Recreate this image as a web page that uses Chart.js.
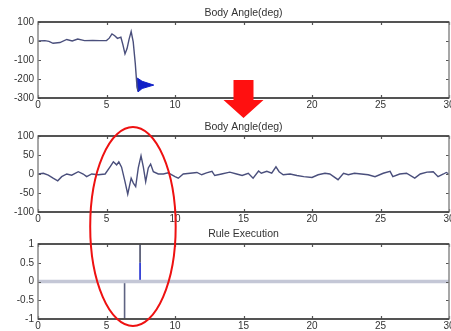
<!DOCTYPE html>
<html>
<head>
<meta charset="utf-8">
<script src="https://cdn.jsdelivr.net/npm/chart.js@4"></script>
<style>
  html, body { margin: 0; padding: 0; background: #fff; overflow: hidden; }
  #wrap { position: relative; width: 451px; height: 331px; overflow: hidden; }
  canvas { position: absolute; left: 0; }
</style>
</head>
<body>
<div id="wrap">
  <canvas id="c1" width="470" height="110" style="top:0px"></canvas>
  <canvas id="c2" width="470" height="114" style="top:110px"></canvas>
  <canvas id="c3" width="470" height="107" style="top:224px"></canvas>
  <canvas id="overlay" width="451" height="331" style="top:0px"></canvas>
</div>
<script>
// 数据: 上图 (原始身体角度)
const xTicks = [0, 5, 10, 15, 20, 25, 30];
const angle1T = [0, 0.5, 0.8, 1.1, 1.6, 2.1, 2.5, 2.9, 3.4, 4.0, 4.5, 5.0, 5.2, 5.4, 5.6, 5.8, 6.05, 6.2, 6.35, 6.5, 6.65, 6.8, 6.95, 7.1, 7.2, 7.28];
const angle1V = [0, 2, -2, -12, -8, 8, 0, 10, 2, 3, 2, 2, 15, 37, 28, 14, 20, -20, -68, -40, 10, 50, -5, -118, -215, -262];
// 倒下后的蓝色振荡区域
const fallT = [7.25, 7.6, 8.45, 7.6, 7.3, 7.22, 7.25];
const fallV = [-195, -212, -232, -250, -268, -240, -195];

// 中图 (修正后的身体角度)
const angle2T = [0, 0.39, 0.75, 1.1, 1.44, 1.73, 2.1, 2.46, 2.94, 3.3, 3.55, 3.92, 4.4, 4.9, 5.26, 5.5, 5.74, 5.9, 6.1, 6.35, 6.55, 6.8, 6.96, 7.13, 7.32, 7.52, 7.69, 7.86, 8.05, 8.22, 8.42, 8.78, 9.15, 9.5,
  10.0, 10.24, 10.6, 11.1, 11.6, 11.95, 12.3, 12.7, 12.9, 13.4, 14.0, 14.5, 14.9, 15.35, 15.7, 16.1, 16.3, 16.7, 17.06, 17.37, 17.6, 17.9, 18.4, 18.9, 19.4,
  20.0, 20.45, 20.95, 21.3, 21.9, 22.3, 22.65, 23.1, 23.6, 24.1, 24.6, 25.2, 25.7, 25.9, 26.4, 26.9, 27.5, 27.9, 28.4, 28.85, 29.2, 29.6, 29.8, 30];
const angle2V = [0, 2, -3, -11, -18, -7, 0, -3, 6, 0, -7, 0, -2, 0, 19, 32, 24, 32, 18, -20, -53, -11, -24, -33, 16, 48, 18, -20, 16, 26, 6, 0, 0, 3,
  -7, -11, 0, 2, 4, -2, 3, 7, -4, 0, 5, 0, -4, 2, -11, 8, 2, 7, 2, 19, 6, -2, 0, -4, -7,
  -9, -2, 2, 0, -15, 2, -2, 2, 0, -2, -7, 2, 7, -7, 0, 2, -11, 0, 5, 6, -7, 0, 4, 0];

// 下图 (规则执行)
const ruleT = [0, 30];
const ruleV = [0, 0];
const ruleDownT = [6.32, 6.32];
const ruleDownV = [0, -1];
const ruleUpLowT = [7.45, 7.45];
const ruleUpLowV = [0, 0.5];
const ruleUpHighT = [7.45, 7.45];
const ruleUpHighV = [0.5, 1];

const pts = (t, v) => t.map((x, i) => ({ x: x, y: v[i] }));
const FONT = "'Liberation Sans', Arial, sans-serif";
const LINE = '#4a4f7c';
const TXT = '#333';

// 边框和内向刻度 (MATLAB风格)
const boxPlugin = {
  id: 'box',
  afterDatasetsDraw(chart) {
    const { ctx, chartArea: a, scales } = chart;
    ctx.save();
    ctx.strokeStyle = '#555';
    ctx.lineWidth = 1.2;
    ctx.beginPath();
    scales.x.ticks.forEach(t => {
      const px = Math.round(scales.x.getPixelForValue(t.value)) + 0.5;
      ctx.moveTo(px, a.top); ctx.lineTo(px, a.top + 3);
      ctx.moveTo(px, a.bottom); ctx.lineTo(px, a.bottom - 3);
    });
    scales.y.ticks.forEach(t => {
      const py = Math.round(scales.y.getPixelForValue(t.value)) + 0.5;
      ctx.moveTo(a.left, py); ctx.lineTo(a.left + 3, py);
      ctx.moveTo(a.right, py); ctx.lineTo(a.right - 3, py);
    });
    ctx.stroke();
    ctx.strokeStyle = '#8a8a8a';
    ctx.lineWidth = 1.5;
    ctx.strokeRect(a.left, a.top, a.right - a.left, a.bottom - a.top);
    ctx.strokeStyle = '#3a3a3a';
    ctx.lineWidth = 1.6;
    ctx.beginPath();
    ctx.moveTo(a.left, a.top); ctx.lineTo(a.right, a.top);
    ctx.moveTo(a.left, a.bottom); ctx.lineTo(a.right, a.bottom);
    ctx.stroke();
    ctx.restore();
  }
};

function makeChart(id, title, titlePad, datasets, yMin, yMax, yStep) {
  return new Chart(document.getElementById(id), {
    type: 'line',
    data: { datasets: datasets },
    options: {
      responsive: false,
      animation: false,
      layout: { padding: { left: 0, right: 21, top: 0, bottom: 0 } },
      elements: { point: { radius: 0 }, line: { tension: 0 } },
      plugins: {
        legend: { display: false },
        tooltip: { enabled: false },
        title: {
          display: true, text: title, fullSize: false, color: TXT,
          font: { family: FONT, size: 10.5, weight: 'normal', lineHeight: 1.2 },
          padding: titlePad
        }
      },
      scales: {
        x: {
          type: 'linear', min: 0, max: 30,
          afterBuildTicks: s => { s.ticks = xTicks.map(v => ({ value: v })); },
          afterFit: s => { s.height = 12; },
          grid: { display: false, drawTicks: false },
          border: { display: false },
          ticks: { color: TXT, padding: 1, maxRotation: 0, font: { family: FONT, size: 10 }, callback: v => String(v) }
        },
        y: {
          min: yMin, max: yMax,
          afterFit: s => { s.width = 38; },
          grid: { display: false, drawTicks: false },
          border: { display: false },
          ticks: { stepSize: yStep, color: TXT, padding: 4, font: { family: FONT, size: 10 }, callback: v => String(v) }
        }
      }
    },
    plugins: [boxPlugin]
  });
}

const chart1 = makeChart('c1', 'Body Angle(deg)', { top: 6.7, bottom: 2.7 }, [
  { data: pts(angle1T, angle1V), borderColor: LINE, borderWidth: 1.4 },
  { data: pts(fallT, fallV), borderColor: '#1020c8', backgroundColor: '#1020c8', borderWidth: 1, fill: 'shape' }
], -300, 100, 100);

const chart2 = makeChart('c2', 'Body Angle(deg)', { top: 10.7, bottom: 2.7 }, [
  { data: pts(angle2T, angle2V), borderColor: LINE, borderWidth: 1.4 }
], -100, 100, 50);

const chart3 = makeChart('c3', 'Rule Execution', { top: 3.7, bottom: 3.7 }, [
  { data: pts(ruleT, ruleV), borderColor: '#c4c7d6', borderWidth: 3.5 },
  { data: pts(ruleDownT, ruleDownV), borderColor: '#5e6382', borderWidth: 1.6 },
  { data: pts(ruleUpLowT, ruleUpLowV), borderColor: '#1a28d0', borderWidth: 1.6 },
  { data: pts(ruleUpHighT, ruleUpHighV), borderColor: '#4a4e68', borderWidth: 1.6 }
], -1, 1, 0.5);

// 叠加层: 红色箭头和椭圆
const octx = document.getElementById('overlay').getContext('2d');
const ax = chart1.scales.x.getPixelForValue(15);
octx.fillStyle = '#ff1010';
octx.beginPath();
octx.moveTo(ax - 10, 80);
octx.lineTo(ax + 10, 80);
octx.lineTo(ax + 10, 100);
octx.lineTo(ax + 20, 100);
octx.lineTo(ax, 118);
octx.lineTo(ax - 20, 100);
octx.lineTo(ax - 10, 100);
octx.closePath();
octx.fill();

const ecx = chart2.scales.x.getPixelForValue(6.93);
const erx = chart2.scales.x.getPixelForValue(10.05) - ecx;
octx.strokeStyle = '#ee1111';
octx.lineWidth = 2;
octx.beginPath();
octx.ellipse(ecx, 226.5, erx, 99.5, 0, 0, Math.PI * 2);
octx.stroke();
</script>
</body>
</html>
